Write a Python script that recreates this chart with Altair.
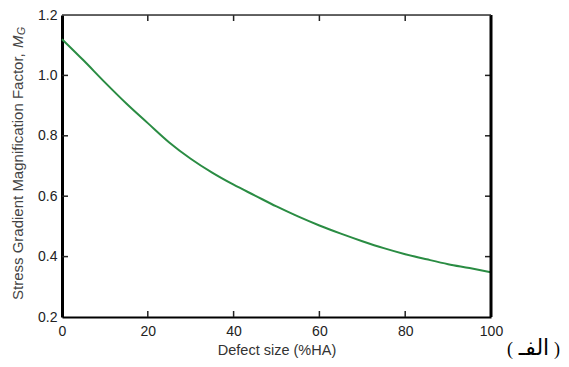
import altair as alt
import pandas as pd

# Data
defect_size = [0, 5, 10, 15, 20, 25, 30, 35, 40, 45, 50, 55, 60, 65, 70, 75, 80, 85, 90, 95, 100]
mg_values = [1.12, 1.05, 0.977, 0.907, 0.842, 0.778, 0.724, 0.678, 0.638, 0.602, 0.566, 0.533, 0.503, 0.476, 0.451, 0.428, 0.408, 0.391, 0.375, 0.362, 0.348]
x_tick_values = [0, 20, 40, 60, 80, 100]
y_tick_values = [0.2, 0.4, 0.6, 0.8, 1.0, 1.2]
x_inner_ticks = [20, 40, 60, 80]
y_inner_ticks = [0.4, 0.6, 0.8, 1.0]
x_title = "Defect size (%HA)"
y_title_main = ["Stress Gradient Magnification Factor,"]
y_title_m = ["M"]
y_title_g = ["G"]
panel_open = ["("]
panel_word = ["الفـ"]
panel_close = [")"]

W, H = 429, 302
FONT = "Liberation Sans"

line_df = pd.DataFrame({"size": defect_size, "mg": mg_values})
xt_df = pd.DataFrame({"size": x_inner_ticks})
yt_df = pd.DataFrame({"mg": y_inner_ticks})

xscale = alt.Scale(domain=[0, 100], nice=False, zero=False)
yscale = alt.Scale(domain=[0.2, 1.2], nice=False, zero=False)

xaxis = alt.Axis(values=x_tick_values, tickSize=0, grid=False, domainColor="#000000",
                 domainWidth=2, labelFontSize=14, labelColor="#222222", labelFont=FONT,
                 labelPadding=7, title=x_title, titleFontSize=14.5, titleFontWeight="normal",
                 titleColor="#333333", titleFont=FONT, titlePadding=5, labelFlush=False)
yaxis = alt.Axis(values=y_tick_values, format=".1f", tickSize=0, grid=False,
                 domainColor="#000000", domainWidth=3, labelFontSize=14, labelColor="#222222",
                 labelFont=FONT, labelPadding=5, title=None, labelFlush=False)

X = alt.X("size:Q", scale=xscale, axis=xaxis)
Y = alt.Y("mg:Q", scale=yscale, axis=yaxis)

line = alt.Chart(line_df).mark_line(color="#2a8c43", strokeWidth=2, interpolate="monotone").encode(x=X, y=Y)

tick_style = dict(color="#222222", strokeWidth=1.5)
bottom_ticks = alt.Chart(xt_df).mark_rule(**tick_style).encode(x=X, y=alt.value(H), y2=alt.value(H - 6))
top_ticks = alt.Chart(xt_df).mark_rule(**tick_style).encode(x=X, y=alt.value(0), y2=alt.value(6))
left_ticks = alt.Chart(yt_df).mark_rule(**tick_style).encode(y=Y, x=alt.value(0), x2=alt.value(6))
right_ticks = alt.Chart(yt_df).mark_rule(**tick_style).encode(y=Y, x=alt.value(W), x2=alt.value(W - 6))

right_border = alt.Chart(yt_df.head(1)).mark_rule(color="#000000", strokeWidth=3).encode(
    x=alt.value(W), y=alt.value(0), y2=alt.value(H))
top_border = alt.Chart(yt_df.head(1)).mark_rule(color="#333333", strokeWidth=1.5).encode(
    x=alt.value(0), x2=alt.value(W), y=alt.value(0))

ytm = alt.Chart(pd.DataFrame({"t": y_title_main})).mark_text(
    angle=270, align="left", baseline="middle", fontSize=15, font=FONT, color="#444444").encode(
    text="t:N", x=alt.value(-44), y=alt.value(285))
ytM = alt.Chart(pd.DataFrame({"t": y_title_m})).mark_text(
    angle=270, align="left", baseline="middle", fontSize=15, font=FONT, fontStyle="italic",
    color="#444444").encode(text="t:N", x=alt.value(-44), y=alt.value(33))
ytG = alt.Chart(pd.DataFrame({"t": y_title_g})).mark_text(
    angle=270, align="left", baseline="middle", fontSize=10.5, font=FONT, fontStyle="italic",
    color="#444444").encode(text="t:N", x=alt.value(-40), y=alt.value(20))

par_style = dict(align="center", baseline="middle", fontSize=18, font="Liberation Serif", color="#000000")
word_style = dict(align="center", baseline="middle", fontSize=22, font="DejaVu Sans", color="#000000")
lab_open = alt.Chart(pd.DataFrame({"t": panel_open})).mark_text(**par_style).encode(
    text="t:N", x=alt.value(448), y=alt.value(335))
lab_word = alt.Chart(pd.DataFrame({"t": panel_word})).mark_text(**word_style).encode(
    text="t:N", x=alt.value(472), y=alt.value(333))
lab_close = alt.Chart(pd.DataFrame({"t": panel_close})).mark_text(**par_style).encode(
    text="t:N", x=alt.value(495), y=alt.value(335))

chart = alt.layer(line, bottom_ticks, top_ticks, left_ticks, right_ticks, right_border, top_border,
                  ytm, ytM, ytG, lab_open, lab_word, lab_close).properties(
    width=W, height=H,
    autosize=alt.AutoSizeParams(type="none"),
    padding={"left": 54, "top": 7, "right": 70, "bottom": 42},
).configure_view(stroke=None).configure(background="white")

chart.save("out.html", embed_options={"renderer": "svg", "actions": False})
